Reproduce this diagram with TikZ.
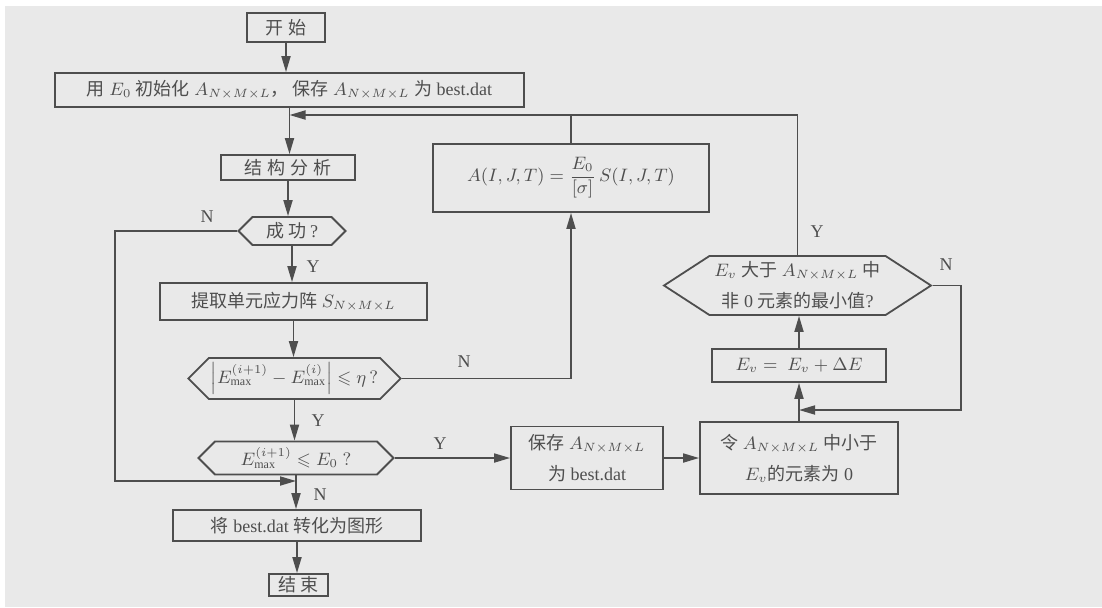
\documentclass[tikz,border=0pt]{standalone}
\usepackage{amsmath,amssymb}
\usepackage{fontspec}
\setmainfont{Liberation Serif}
\newfontfamily\cjk{Noto Sans CJK SC}
\usepackage{tikz}
\usetikzlibrary{arrows.meta,shapes.symbols}

\definecolor{ink}{RGB}{78,78,78}
\definecolor{paper}{RGB}{233,233,233}
\newcommand{\Anml}{A_{N{\times}M{\times}L}}

\begin{document}
\begin{tikzpicture}[
    x=0.5pt, y=-0.5pt,
    font=\fontsize{9}{11}\selectfont,
    >={Triangle[length=8pt,width=4.5pt]},
    every node/.style={align=center, text=ink},
    box/.style={draw=ink, line width=0.9pt, inner sep=1.5pt},
    hexa/.style={draw=ink, line width=0.9pt, shape=signal,
      signal to=west and east, signal pointer angle=90, inner sep=1pt},
    twoline/.style={font=\fontsize{9}{15.5}\selectfont},
    lbl/.style={inner sep=0pt},
    arr/.style={->, draw=ink, line width=0.9pt},
    line/.style={draw=ink, line width=0.9pt},
  ]
    % --- paper ---
    \fill[white] (0,0) rectangle (1102,607);
    \fill[paper] (5,6) rectangle (1102,607);
    \useasboundingbox (0,0) rectangle (1102,607);

    % --- main column ---
    \node[box, minimum width=39pt, minimum height=14.5pt] (start) at (286,27.5)
      {\cjk 开\hspace{3pt}始};
    \node[box, minimum width=234.5pt, minimum height=17pt] (init) at (289.5,90)
      {{\cjk 用} $E_0$ {\cjk 初始化} $\Anml${\cjk ，\ 保存} $\Anml$ {\cjk 为} best.dat};
    \node[box, minimum width=67pt, minimum height=12.5pt] (analyse) at (288,167.5)
      {\cjk 结\hspace{2.5pt}构\hspace{2.5pt}分\hspace{2.5pt}析};
    \node[hexa, minimum width=53.5pt, minimum height=14pt] (ok) at (292,231)
      {{\cjk 成\hspace{2.5pt}功}\,?};
    \node[box, minimum width=133.5pt, minimum height=18.5pt] (extract) at (293.5,301.5)
      {{\cjk 提取单元应力阵} $S_{N{\times}M{\times}L}$};
    \node[hexa, minimum width=105.5pt, minimum height=20.5pt] (conv) at (294.5,378.5)
      {$\left|E^{(i+1)}_{\max}-E^{(i)}_{\max}\right|\leqslant\eta\,?$};
    \node[hexa, minimum width=97.5pt, minimum height=16.5pt] (check) at (296,458)
      {$E^{(i+1)}_{\max}\leqslant E_0\ ?$};
    \node[box, minimum width=124pt, minimum height=15.5pt] (convert) at (297,525.5)
      {{\cjk 将} best.dat {\cjk 转化为图形}};
    \node[box, minimum width=29.5pt, minimum height=11pt, inner sep=0.5pt] (stop) at (298.5,585)
      {\cjk 结\hspace{2pt}束};

    % --- right part ---
    \node[box, minimum width=138pt, minimum height=34pt] (update) at (571,178)
      {$A(I,J,T)=\dfrac{E_0}{[\sigma]}\,S(I,J,T)$};
    \node[box, twoline, minimum width=76pt, minimum height=31.5pt] (save) at (587,458)
      {{\cjk 保存} $\Anml$\\{\cjk 为} best.dat};
    \node[box, twoline, minimum width=99pt, minimum height=36pt] (zero) at (799,458)
      {{\cjk 令} $\Anml$ {\cjk 中小于}\\$E_v${\cjk 的元素为} 0};
    \node[box, minimum width=87pt, minimum height=16.5pt] (inc) at (799,365.5)
      {$E_v=\ E_v+\Delta E$};
    \node[hexa, twoline, signal pointer angle=66, minimum width=133.5pt, minimum height=29.5pt] (test) at (797.5,285.5)
      {$E_v$ {\cjk 大于} $\Anml$ {\cjk 中}\\{\cjk 非} 0 {\cjk 元素的最小值}?};

    % --- Y / N labels ---
    \node[lbl] (nOk)    at (207,217) {N};
    \node[lbl] (yOk)    at (313,267) {Y};
    \node[lbl] (nConv)  at (464,362) {N};
    \node[lbl] (yConv)  at (318,421) {Y};
    \node[lbl] (yCheck) at (440,444) {Y};
    \node[lbl] (nCheck) at (320,495) {N};
    \node[lbl] (yTest)  at (817,232) {Y};
    \node[lbl] (nTest)  at (946,265) {N};

    % --- main chain ---
    \draw[arr] (start.south) -- (start.south |- init.north);
    \draw[arr] (init.south) -- (init.south |- analyse.north);
    \draw[arr] (analyse.south) -- (analyse.south |- ok.north);
    \draw[arr] (ok.south) -- (ok.south |- extract.north);
    \draw[arr] (extract.south) -- (extract.south |- conv.north);
    \draw[arr] (conv.south) -- (conv.south |- check.north);
    \draw[arr] (check.south) -- (check.south |- convert.north);
    \draw[arr] (convert.south) -- (convert.south |- stop.north);

    % --- loops ---
    \coordinate (fb) at (289.5,115);
    \draw[arr] (test.north) |- (fb);
    \draw[line] (update.north) -- (update.north |- fb);
    \coordinate (nl) at (115,481);
    \draw[arr] (ok.west) -| (nl) -- (nl -| check.south);
    \draw[arr] (conv.east) -| (update.south);

    % --- right chain ---
    \draw[arr] (check.east) -- (save.west);
    \draw[arr] (save) -- (zero);
    \draw[arr] (zero.north) -- (zero.north |- inc.south);
    \draw[arr] (inc.north) -- (inc.north |- test.south);
    \coordinate (nr) at (961,410);
    \draw[arr] (test.east) -| (nr) -- (nr -| zero.north);
  \end{tikzpicture}
\end{document}
